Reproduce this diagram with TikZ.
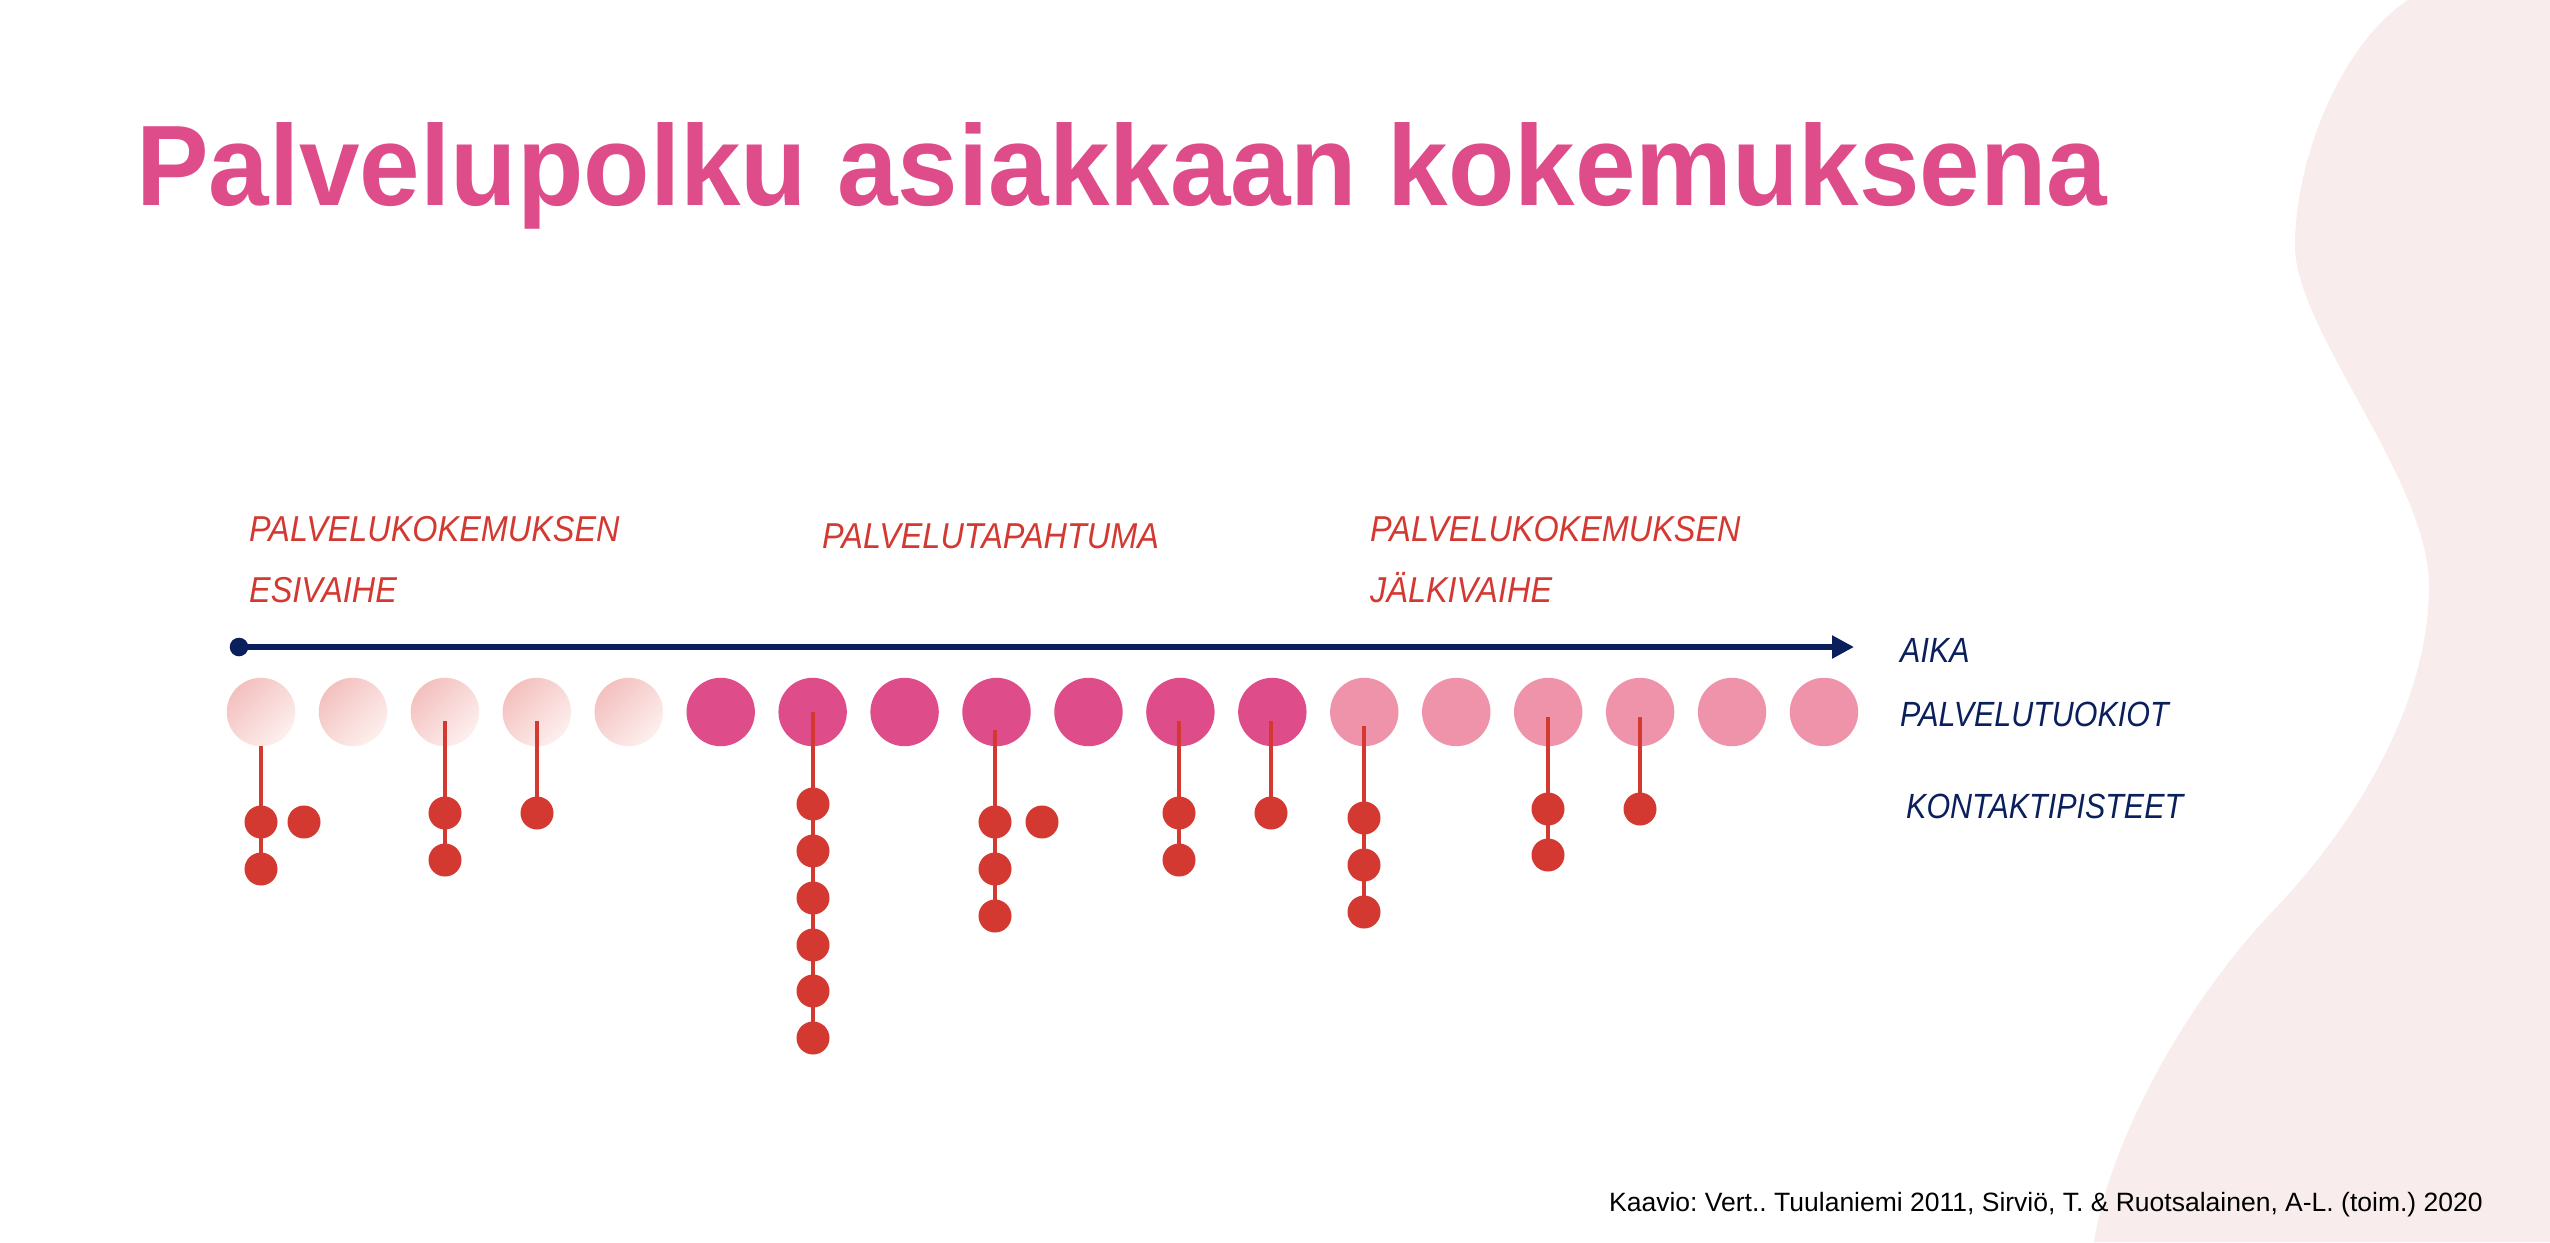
\documentclass[tikz,border=0pt]{standalone}
\usepackage{fontspec}
\setmainfont{Liberation Sans}
\newfontfamily\titlefont[FakeStretch=0.95]{Liberation Sans}
\newfontfamily\lblfont[FakeStretch=0.87]{Liberation Sans}
\newfontfamily\redfont[FakeStretch=0.9]{Liberation Sans}
\usetikzlibrary{arrows.meta}
\pgfdeclarelayer{back}
\pgfdeclarelayer{circ}
\pgfdeclarelayer{lines}
\pgfsetlayers{back,circ,lines,main}
\definecolor{pmag}{HTML}{DE4D8A}
\definecolor{ppink}{HTML}{EF93AA}
\definecolor{gradA}{HTML}{F3C1BE}
\definecolor{gradB}{HTML}{FDEFEE}
\definecolor{pred}{HTML}{D33831}
\definecolor{pnavy}{HTML}{0A1F5B}
\definecolor{pwave}{HTML}{F8ECEC}
\frenchspacing
\begin{document}
\begin{tikzpicture}[x=1pt,y=-1pt,
  phase/.style={circle, inner sep=0pt, minimum size=68.4pt},
  prephase/.style={phase, top color=gradA, bottom color=gradB, shading angle=45},
  mainphase/.style={phase, fill=pmag},
  postphase/.style={phase, fill=ppink},
  cdot/.style={circle, inner sep=0pt, minimum size=33pt, fill=pred},
  stem/.style={draw=pred, line width=3.2pt},
  axisline/.style={draw=pnavy, line width=5.3pt, -{Triangle[length=22pt,width=22pt]}},
  redlbl/.style={anchor=base west, inner sep=0pt, text=pred, font=\redfont\itshape\fontsize{36}{40}\selectfont},
  navylbl/.style={anchor=base west, inner sep=0pt, text=pnavy, font=\lblfont\itshape\fontsize{35}{40}\selectfont}
]
\useasboundingbox (0,0) rectangle (2550,1242);

% background and wave
\begin{pgfonlayer}{back}
\fill[white] (0,0) rectangle (2550,1242);
\fill[pwave] (2408,0) .. controls (2340,45) and (2295,160) .. (2295,246)
  .. controls (2295,330) and (2429,480) .. (2429,586)
  .. controls (2429,700) and (2360,820) .. (2273,911)
  .. controls (2186,1002) and (2110,1140) .. (2094,1242)
  -- (2550,1242) -- (2550,0) -- cycle;
\end{pgfonlayer}

% title
\node[anchor=base west, inner sep=0pt, text=pmag, font=\titlefont\bfseries\fontsize{114.5}{120}\selectfont] (title) at (136,205) {Palvelupolku asiakkaan kokemuksena};

% phase labels
\node[redlbl] (pre1) at (249,541) {PALVELUKOKEMUKSEN};
\node[redlbl] (pre2) at (249,602) {ESIVAIHE};
\node[redlbl] (mid1) at (822,548) {PALVELUTAPAHTUMA};
\node[redlbl] (post1) at (1370,541) {PALVELUKOKEMUKSEN};
\node[redlbl] (post2) at (1370,602) {JÄLKIVAIHE};

% time axis
\node[circle, inner sep=0pt, minimum size=18.6pt, fill=pnavy] (astart) at (239,647) {};
\coordinate (aend) at (1854,647);
\draw[axisline] (astart.center) -- (aend);

% legend labels
\node[navylbl] (aika) at (1900,662) {AIKA};
\node[navylbl] (tuokiot) at (1900,726) {PALVELUTUOKIOT};
\node[navylbl] (kontakt) at (1906,818) {KONTAKTIPISTEET};

% service moments
\begin{pgfonlayer}{circ}
\foreach \i in {0,...,4} \node[prephase] (c\i) at ({261+91.94*\i},712) {};
\foreach \i in {5,...,11} \node[mainphase] (c\i) at ({261+91.94*\i},712) {};
\foreach \i in {12,...,17} \node[postphase] (c\i) at ({261+91.94*\i},712) {};
\end{pgfonlayer}

% contact points
\node[cdot] (d0a) at (261,822) {};
\node[cdot] (d0b) at (261,869) {};
\node[cdot] (d0x) at (304,822) {};
\node[cdot] (d2a) at (445,813) {};
\node[cdot] (d2b) at (445,860) {};
\node[cdot] (d3a) at (537,813) {};
\node[cdot] (d6a) at (813,804) {};
\node[cdot] (d6b) at (813,851) {};
\node[cdot] (d6c) at (813,898) {};
\node[cdot] (d6d) at (813,945) {};
\node[cdot] (d6e) at (813,991) {};
\node[cdot] (d6f) at (813,1038) {};
\node[cdot] (d8a) at (995,822) {};
\node[cdot] (d8b) at (995,869) {};
\node[cdot] (d8c) at (995,916) {};
\node[cdot] (d8x) at (1042,822) {};
\node[cdot] (d10a) at (1179,813) {};
\node[cdot] (d10b) at (1179,860) {};
\node[cdot] (d11a) at (1271,813) {};
\node[cdot] (d12a) at (1364,818) {};
\node[cdot] (d12b) at (1364,865) {};
\node[cdot] (d12c) at (1364,912) {};
\node[cdot] (d14a) at (1548,809) {};
\node[cdot] (d14b) at (1548,855) {};
\node[cdot] (d15a) at (1640,809) {};

% stems
\coordinate (s0) at (261,746);
\coordinate (s2) at (445,721);
\coordinate (s3) at (537,721);
\coordinate (s6) at (813,712);
\coordinate (s8) at (995,730);
\coordinate (s10) at (1179,721);
\coordinate (s11) at (1271,721);
\coordinate (s12) at (1364,726);
\coordinate (s14) at (1548,717);
\coordinate (s15) at (1640,717);
\begin{pgfonlayer}{lines}
\draw[stem] (s0) -- (d0a.center) -- (d0b.center);
\draw[stem] (s2) -- (d2a.center) -- (d2b.center);
\draw[stem] (s3) -- (d3a.center);
\draw[stem] (s6) -- (d6a.center) -- (d6b.center) -- (d6c.center) -- (d6d.center) -- (d6e.center) -- (d6f.center);
\draw[stem] (s8) -- (d8a.center) -- (d8b.center) -- (d8c.center);
\draw[stem] (s10) -- (d10a.center) -- (d10b.center);
\draw[stem] (s11) -- (d11a.center);
\draw[stem] (s12) -- (d12a.center) -- (d12b.center) -- (d12c.center);
\draw[stem] (s14) -- (d14a.center) -- (d14b.center);
\draw[stem] (s15) -- (d15a.center);
\end{pgfonlayer}

% source
\node[anchor=base west, inner sep=0pt, text=black, font=\fontsize{26.5}{30}\selectfont] (source) at (1609,1211) {Kaavio: Vert.. Tuulaniemi 2011, Sirviö, T. \& Ruotsalainen, A-L. (toim.) 2020};
\end{tikzpicture}
\end{document}
